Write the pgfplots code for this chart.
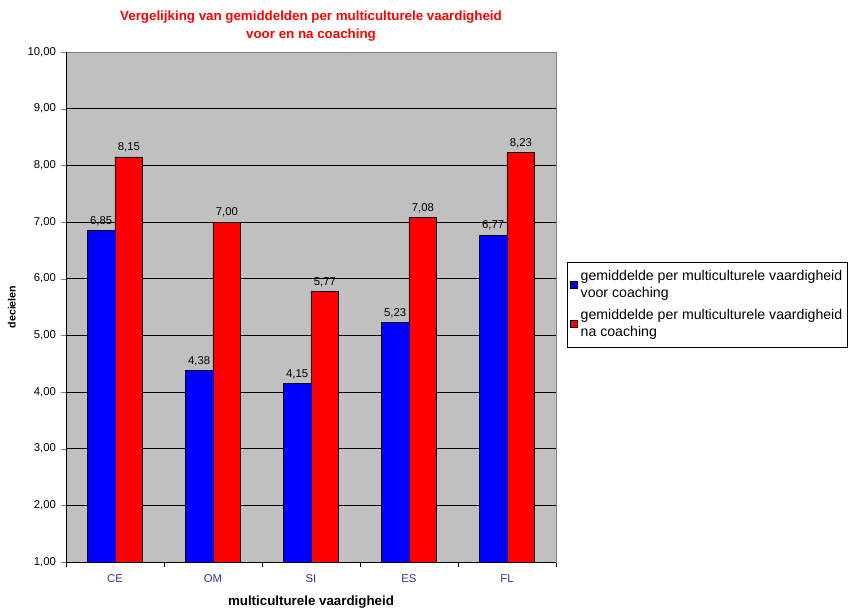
\documentclass[border=0pt]{standalone}
\usepackage{pgfplots}
\pgfplotsset{compat=1.18}
\usepackage{fontspec}
\setmainfont{Liberation Sans}
\definecolor{plotgray}{RGB}{192,192,192}
\definecolor{navylab}{RGB}{51,51,153}
\begin{document}
\begin{tikzpicture}
\path[use as bounding box] (0,0) rectangle (637.5pt,458.25pt);
\begin{axis}[
  at={(49.5pt,36.75pt)}, anchor=south west,
  scale only axis, width=367.5pt, height=382.5pt,
  ybar=0pt, bar width=20.8pt,
  xmin=-0.5, xmax=4.5, ymin=1, ymax=10,
  xtick={0,1,2,3,4}, xticklabels={CE,OM,SI,ES,FL},
  major x tick style={draw=none},
  minor xtick={-0.5,0.5,1.5,2.5,3.5,4.5},
  minor x tick style={black},
  minor tick length=4pt,
  ytick={1,2,...,10},
  tick align=outside, major tick length=4pt,
  xtick pos=bottom, ytick pos=left,
  ymajorgrids, grid style={black, line width=0.6pt},
  axis background/.style={fill=plotgray},
  axis line style={draw=gray},
  x tick label style={font=\fontsize{8.5pt}{10pt}\selectfont, text=navylab, yshift=-2pt},
  y tick label style={font=\fontsize{8.5pt}{10pt}\selectfont},
  /pgf/number format/.cd, fixed, fixed zerofill, precision=2, use comma, assume math mode=true,
  /pgfplots/.cd,
  yticklabel={\pgfmathprintnumber{\tick}},
  nodes near coords,
  nodes near coords style={font=\fontsize{8.5pt}{10pt}\selectfont, text=black, /pgf/number format/.cd, fixed, fixed zerofill, precision=2, use comma, assume math mode=true},
  title={Vergelijking van gemiddelden per multiculturele vaardigheid\\voor en na coaching},
  title style={font=\bfseries\fontsize{10pt}{13.5pt}\selectfont, text=red, align=center, yshift=-1.5pt},
  xlabel={multiculturele vaardigheid},
  xlabel style={font=\bfseries\fontsize{10pt}{12pt}\selectfont, yshift=-3pt},
  ylabel={decielen},
  ylabel style={font=\bfseries\fontsize{8pt}{10pt}\selectfont, yshift=2pt},
  legend style={at={(1.0224,0.588)}, anchor=north west, draw=black, fill=white,
    font=\fontsize{10.6pt}{13pt}\selectfont, cells={align=left, anchor=west},
    inner xsep=2pt, inner ysep=4pt, row sep=3pt},
  legend image code/.code={\draw[#1, draw=black] (0cm,-0.09cm) rectangle (0.2cm,0.11cm);},
]
\addplot[fill=blue, draw=black, line width=0.4pt] coordinates {(0,6.85) (1,4.38) (2,4.15) (3,5.23) (4,6.77)};
\addplot[fill=red, draw=black, line width=0.4pt] coordinates {(0,8.15) (1,7.00) (2,5.77) (3,7.08) (4,8.23)};
\legend{gemiddelde per multiculturele vaardigheid\\voor coaching, gemiddelde per multiculturele vaardigheid\\na coaching}
\end{axis}
\draw[black, line width=0.6pt] (49.5pt,419.25pt) -- (49.5pt,36.75pt) -- (417pt,36.75pt);
\end{tikzpicture}
\end{document}
